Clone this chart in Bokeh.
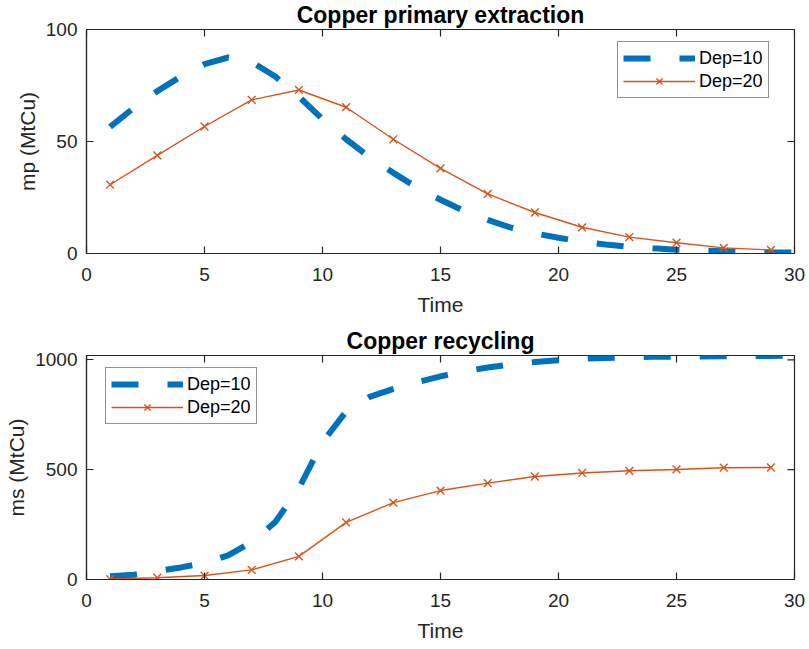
import math
from bokeh.plotting import figure
from bokeh.models import Range1d, FixedTicker, Legend
from bokeh.layouts import column
from bokeh.embed import file_html
from bokeh.resources import INLINE

# ---- data ----
t_dep10 = [1, 2, 3, 4, 5, 6, 7, 8, 9, 10, 11, 12, 13, 14, 15,
           16, 17, 18, 19, 20, 21, 22, 23, 24, 25, 26, 27, 28, 29, 30]
mp_dep10 = [56.5, 65, 72.5, 79, 84.5, 87.5, 85.5, 79, 70, 60, 51, 43, 36, 29.5, 24,
            19, 15, 11.5, 9, 7, 5.3, 4, 3, 2.3, 1.7, 1.3, 1.0, 0.7, 0.5, 0.4]
ms_dep10 = [15, 22, 38, 55, 75, 110, 170, 262, 415, 625, 765, 832, 868, 898, 925,
            948, 965, 980, 990, 998, 1005, 1009, 1012, 1014, 1015, 1016, 1017, 1018, 1018, 1019]

t_dep20 = [1, 3, 5, 7, 9, 11, 13, 15, 17, 19, 21, 23, 25, 27, 29]
mp_dep20 = [30.7, 43.8, 56.7, 68.6, 73, 65.3, 51, 38, 26.6, 18.3, 11.7, 7.3, 4.8, 2.5, 1.6]
ms_dep20 = [2, 8, 18, 44, 105, 260, 350, 405, 439, 469, 485, 495, 501, 509, 510]

x_ticks = [0, 5, 10, 15, 20, 25, 30]
mp_ticks = [0, 50, 100]
ms_ticks = [0, 500, 1000]

labels = ["Dep=10", "Dep=20"]
titles = ["Copper primary extraction", "Copper recycling"]
ylabels = ["mp (MtCu)", "ms (MtCu)"]

BLUE = "#0072BD"
ORANGE = "#D95319"
AX = "#262626"
FONT = "Liberation Sans"
XMAX = 30


def style_axis(ax, ticks):
    ax.ticker = FixedTicker(ticks=ticks)
    ax.major_tick_in = 7
    ax.major_tick_out = 0
    ax.minor_tick_line_color = None
    ax.axis_line_color = AX
    ax.axis_line_width = 1.2
    ax.major_tick_line_color = AX
    ax.major_tick_line_width = 1.2
    ax.major_label_text_font = FONT
    ax.major_label_text_color = AX
    ax.major_label_text_font_size = "19px"
    ax.axis_label_text_font = FONT
    ax.axis_label_text_font_size = "21px"
    ax.axis_label_text_font_style = "normal"
    ax.axis_label_text_color = AX


def make_plot(title, ylabel, ymax, yticks, y10, y20, legend_xy, height,
              top_border, bottom_border, ylabel_standoff):
    p = figure(width=809, height=height, x_range=Range1d(0, XMAX), y_range=Range1d(0, ymax),
               output_backend="svg", toolbar_location=None,
               min_border_left=86, min_border_right=15,
               min_border_top=top_border, min_border_bottom=bottom_border)
    p.title.text = title
    p.title.align = "center"
    p.title.vertical_align = "top"
    p.title.text_font = FONT
    p.title.text_font_size = "23px"
    p.title.text_font_style = "bold"
    p.title.text_color = "black"
    p.title.standoff = 0
    p.xgrid.visible = False
    p.ygrid.visible = False
    p.outline_line_color = AX
    p.outline_line_width = 1.2
    p.background_fill_color = "white"
    p.border_fill_color = "white"

    p.xaxis.axis_label = "Time"
    p.yaxis.axis_label = ylabel
    style_axis(p.xaxis[0], x_ticks)
    style_axis(p.yaxis[0], yticks)
    p.xaxis[0].major_label_standoff = 14
    p.yaxis[0].major_label_standoff = 9
    p.xaxis[0].axis_label_standoff = 9
    p.yaxis[0].axis_label_standoff = ylabel_standoff

    # inward ticks on the top and right edges of the box
    p.ray(x=x_ticks, y=[ymax] * len(x_ticks), length=7, length_units="screen",
          angle=-math.pi / 2, line_color=AX, line_width=1.2)
    p.ray(x=[XMAX] * len(yticks), y=yticks, length=7, length_units="screen",
          angle=math.pi, line_color=AX, line_width=1.2)

    r1 = p.line(t_dep10, y10, line_color=BLUE, line_width=6, line_dash="27 29")
    r2 = p.line(t_dep20, y20, line_color=ORANGE, line_width=1.4)
    r3 = p.scatter(t_dep20, y20, marker="x", size=11, line_color=ORANGE, line_width=1.4)

    legend = Legend(items=[(labels[0], [r1]), (labels[1], [r2, r3])], location=legend_xy)
    legend.label_text_font = FONT
    legend.label_text_font_size = "18px"
    legend.label_text_color = "black"
    legend.glyph_width = 72
    legend.glyph_height = 22
    legend.label_height = 22
    legend.label_standoff = 4
    legend.spacing = 1
    legend.padding = 5
    legend.margin = 0
    legend.border_line_color = AX
    legend.border_line_width = 1.2
    legend.background_fill_alpha = 1
    p.add_layout(legend, "center")
    return p


p1 = make_plot(titles[0], ylabels[0], 100, mp_ticks, mp_dep10, mp_dep20, (531, 155),
               324, 29, 71, 4)
p2 = make_plot(titles[1], ylabels[1], 1020, ms_ticks, ms_dep10, ms_dep20, (19, 155),
               325, 31, 70, 4)

layout = column(p1, p2, spacing=0)
open("out.html", "w").write(file_html(layout, INLINE))
